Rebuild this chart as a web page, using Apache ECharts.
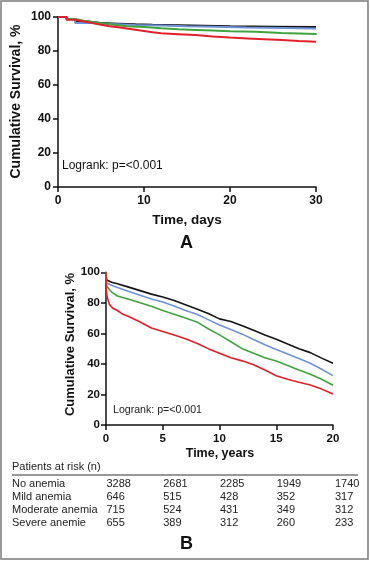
<!DOCTYPE html>
<html><head><meta charset="utf-8">
<script src="https://cdn.jsdelivr.net/npm/echarts@6/dist/echarts.min.js"></script>
<style>html,body{margin:0;padding:0;background:#fff}#c{width:370px;height:561px}</style>
</head><body><div id="c"></div>
<script>
// ---- Panel A: 30-day survival (days, %) ----
const daysNoAnemia = [[0,100],[1,98.8],[2,97.6],[3,97],[4,96.5],[5,96.1],[7,95.7],[9,95.4],[11,95.1],[14,94.8],[17,94.5],[20,94.3],[25,94.1],[30,94]];
const daysMild = [[0,100],[1,98.5],[2,96.5],[4,96.1],[5,95.7],[7,95.3],[9,95],[12,94.6],[15,94.3],[18,93.8],[22,93.5],[26,93.2],[30,93]];
const daysModerate = [[0,100],[1,98.8],[2,97.8],[3,97],[4,96.4],[5,95.8],[6,95.2],[7,94.6],[8,94.1],[10,93.4],[12,92.8],[14,92.4],[16,92],[18,91.6],[20,91.3],[23,90.6],[26,90],[30,89.5]];
const daysSevere = [[0,100],[1,98.4],[2,97.4],[3,96.4],[4,95.4],[5,94.6],[6,94],[7,93.2],[8,92.5],[9,91.8],[10,91],[11,90.4],[12,89.9],[14,89.4],[16,88.6],[18,87.9],[20,87.4],[22,86.9],[24,86.4],[26,85.9],[28,85.5],[30,85.3]];

// ---- Panel B: 20-year survival (years, %) ----
const yearsNoAnemia = [[0,100],[0.05,95],[0.5,93.5],[1,92.5],[2,90.3],[3,88],[4,85.7],[5,83.8],[6,81.5],[7,78.8],[8,76],[9,73],[10,69.5],[11,67.8],[12,65],[13,62],[14,59],[15,56.2],[16,53],[17,50],[18,47.4],[19,43.8],[20,40.4]];
const yearsMild = [[0,100],[0.05,93],[0.5,91.5],[1,90],[2,87.5],[3,85],[4,82.5],[5,80.5],[6,78],[7,75],[8,72.5],[9,69],[10,65.5],[11,62.5],[12,59.5],[13,56],[14,52.5],[15,49.5],[16,46.5],[17,43.5],[18,40.4],[19,36.5],[20,32.3]];
const yearsModerate = [[0,100],[0.05,91],[0.5,87],[1,84.5],[2,82.3],[3,80],[4,77.8],[5,75],[6,72.5],[7,70],[8,67.5],[9,63],[10,59],[11,54.5],[12,50],[13,47],[14,44],[15,41.9],[16,39],[17,36],[18,33.2],[19,30],[20,26]];
const yearsSevere = [[0,100],[0.03,88],[0.1,84],[0.3,79],[0.6,76.5],[1,75],[1.5,72.5],[2,71],[3,67.5],[4,63.5],[5,61.3],[6,59],[7,56.5],[8,53.5],[9,50],[10,47],[11,44],[12,42],[13,39.5],[14,36],[15,32.2],[16,30],[17,28],[18,26.2],[19,23.5],[20,20.3]];

// ---- Patients at risk table ----
const riskTimes = [0,5,10,15,20];
const riskGroups = ['No anemia','Mild anemia','Moderate anemia','Severe anemie'];
const riskNoAnemia = [3288,2681,2285,1949,1740];
const riskMild = [646,515,428,352,317];
const riskModerate = [715,524,431,349,312];
const riskSevere = [655,389,312,260,233];

const F = '"Liberation Sans", Arial, sans-serif';
const colors = ['#141414','#6f93d6','#3fa43f','#e3202a'];

const chart = echarts.init(document.getElementById('c'), null, {renderer:'canvas'});

function axisCommon(){
  return {
    axisLine:{show:true,lineStyle:{color:'#111',width:1.5}},
    axisTick:{show:true,length:5,lineStyle:{color:'#111',width:1.5}},
    splitLine:{show:false}
  };
}
function mkSeries(data,i,xi,step,w){
  return {type:'line',xAxisIndex:xi,yAxisIndex:xi,data:data,step:step,showSymbol:false,symbol:'none',
    lineStyle:{color:colors[i],width:w},itemStyle:{color:colors[i]},z:2+i,animation:false};
}

chart.setOption({
  animation:false,
  grid:[
    {left:58,top:17,width:258,height:170},
    {left:106,top:272.3,width:227,height:152.7}
  ],
  xAxis:[
    Object.assign(axisCommon(),{gridIndex:0,type:'value',min:0,max:30,interval:10,
      axisLabel:{fontFamily:F,fontWeight:'bold',fontSize:12,color:'#111',margin:8}}),
    Object.assign(axisCommon(),{gridIndex:1,type:'value',min:0,max:20,interval:5,
      axisLabel:{fontFamily:F,fontWeight:'bold',fontSize:11.5,color:'#111',margin:8}})
  ],
  yAxis:[
    Object.assign(axisCommon(),{gridIndex:0,type:'value',min:0,max:100,interval:20,
      axisLabel:{fontFamily:F,fontWeight:'bold',fontSize:12,color:'#111',margin:7}}),
    Object.assign(axisCommon(),{gridIndex:1,type:'value',min:0,max:100,interval:20,
      axisLabel:{fontFamily:F,fontWeight:'bold',fontSize:11.5,color:'#111',margin:6}})
  ],
  series:[
    mkSeries(daysNoAnemia,0,0,'end',2),
    mkSeries(daysMild,1,0,'end',2),
    mkSeries(daysModerate,2,0,'end',2),
    mkSeries(daysSevere,3,0,'end',2),
    mkSeries(yearsNoAnemia,0,1,false,1.6),
    mkSeries(yearsMild,1,1,false,1.6),
    mkSeries(yearsModerate,2,1,false,1.6),
    mkSeries(yearsSevere,3,1,false,1.6)
  ]
});

const g = [];
g.push({type:'rect',shape:{x:1,y:1,width:367,height:558},style:{fill:'none',stroke:'#7a7a7a',lineWidth:1.5},z:100});
function txt(x,y,s,opt){
  g.push({type:'text',x:x,y:y,rotation:opt.rot||0,z:50,
    style:{text:s,font:(opt.bold?'bold ':'')+opt.size+'px '+F,fill:opt.color||'#111',
      textAlign:opt.align||'left',textVerticalAlign:'middle'}});
}
// Panel A
txt(16,101.5,'Cumulative Survival, %',{bold:true,size:14,align:'center',rot:Math.PI/2});
txt(187,220,'Time, days',{bold:true,size:13.5,align:'center'});
txt(62,166,'Logrank: p=<0.001',{size:12});
txt(186.5,243.5,'A',{bold:true,size:18,align:'center'});
// Panel B
txt(70,344.5,'Cumulative Survival, %',{bold:true,size:13,align:'center',rot:Math.PI/2});
txt(220,454,'Time, years',{bold:true,size:12.5,align:'center'});
txt(113,410,'Logrank: p=<0.001',{size:10.6,color:'#222'});
txt(186.5,544.5,'B',{bold:true,size:18,align:'center'});
// Table
txt(12,467,'Patients at risk (n)',{size:11,color:'#222'});
g.push({type:'line',shape:{x1:12,y1:475,x2:358,y2:475},style:{stroke:'#333',lineWidth:1},z:50});
const riskRows = [riskNoAnemia,riskMild,riskModerate,riskSevere];
riskGroups.forEach((name,r)=>{
  const y = 484 + r*12.9;
  txt(12,y,name,{size:11,color:'#222'});
  riskTimes.forEach((t,c)=>{
    const px = chart.convertToPixel({xAxisIndex:1},t);
    txt(px + (c===4?2:0.5), y, String(riskRows[r][c]), {size:11,color:'#222'});
  });
});
chart.setOption({graphic:g});
</script></body></html>
